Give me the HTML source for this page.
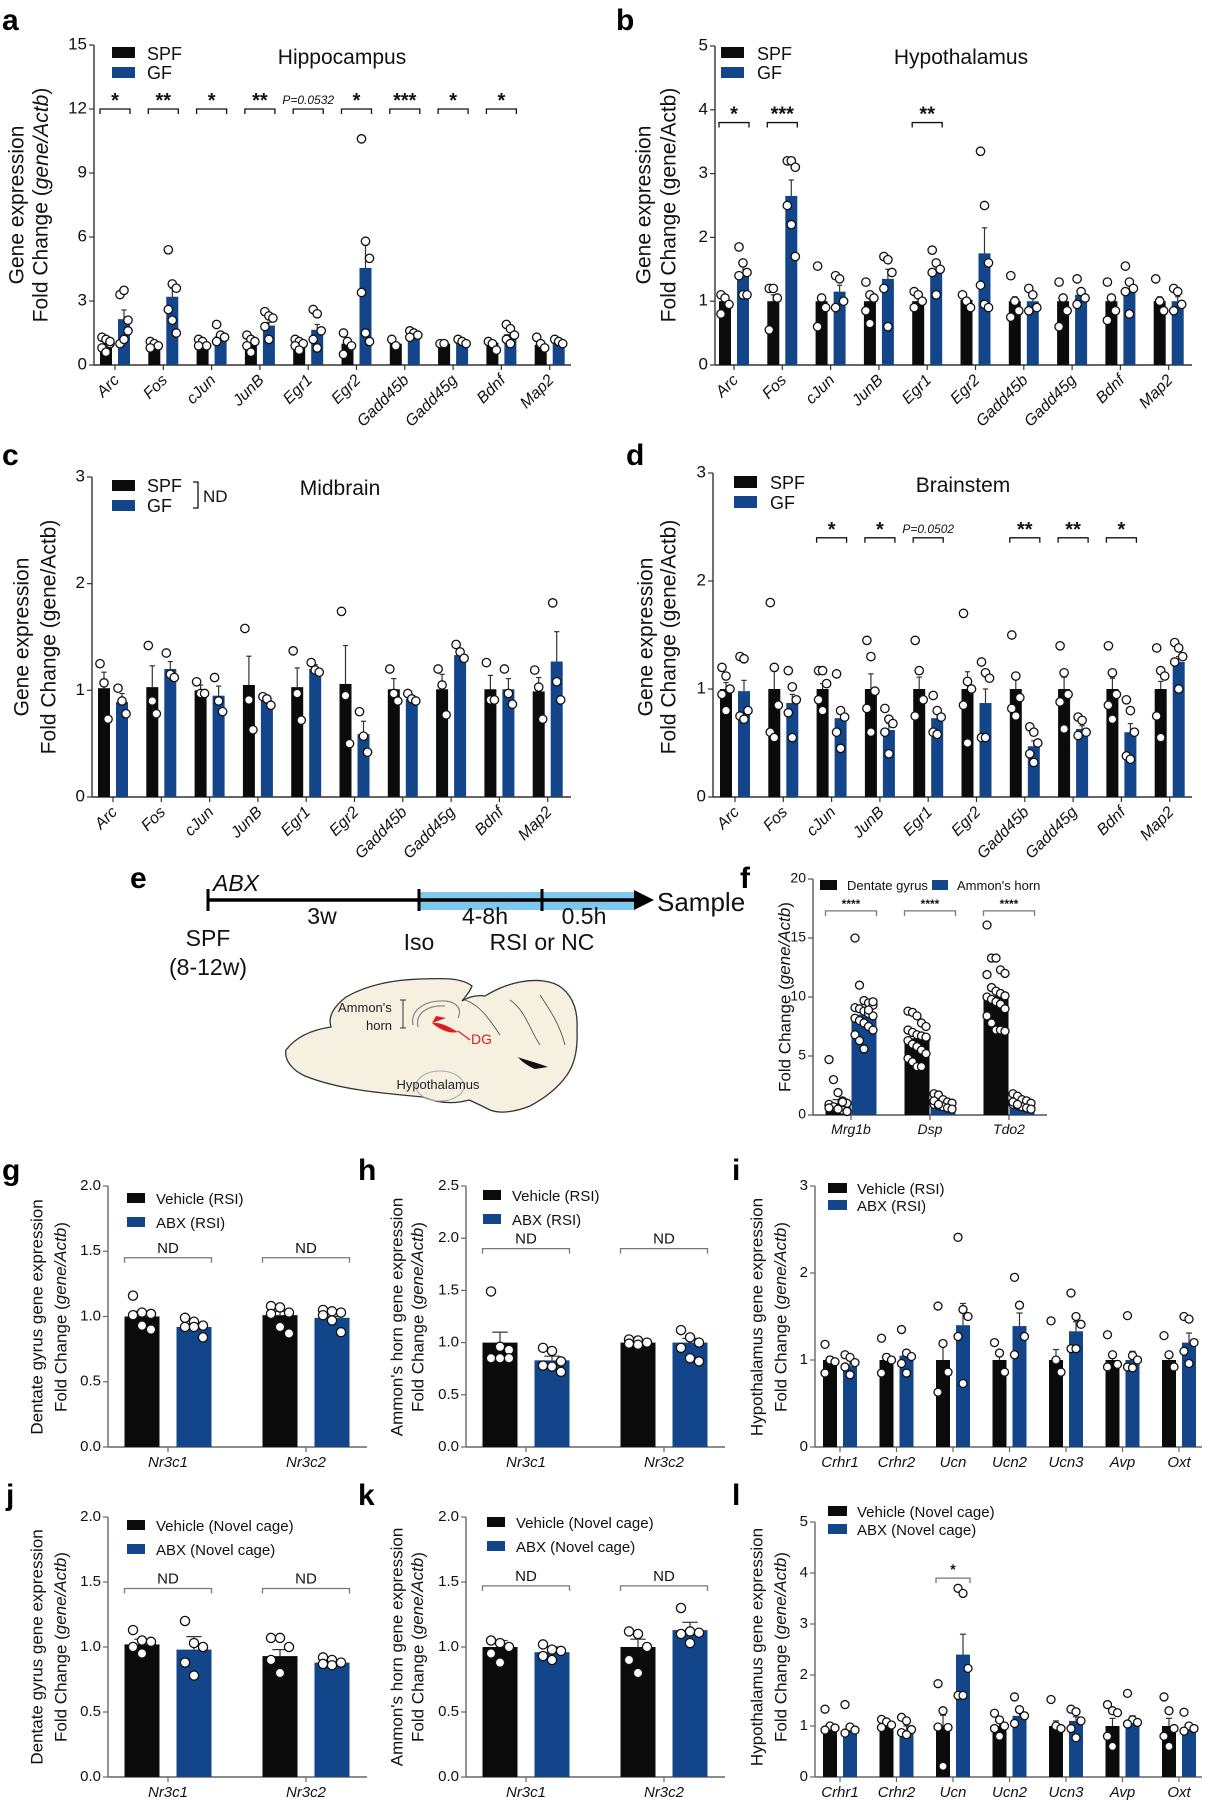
<!DOCTYPE html>
<html><head><meta charset="utf-8"><style>
html,body{margin:0;padding:0;background:#fff}
svg{display:block;font-family:"Liberation Sans",Arial,sans-serif}
</style></head><body>
<svg id="fig" width="1210" height="1800" viewBox="0 0 1210 1800" xmlns="http://www.w3.org/2000/svg">
<rect width="1210" height="1800" fill="#fff"/>
<g font-weight="bold" font-size="30" fill="#000">
<text x="2" y="30">a</text><text x="616" y="30">b</text>
<text x="2" y="465">c</text><text x="626" y="465">d</text>
<text x="130" y="888">e</text><text x="740" y="888">f</text>
<text x="2" y="1180">g</text><text x="358" y="1180">h</text><text x="732" y="1180">i</text>
<text x="6" y="1505">j</text><text x="358" y="1505">k</text><text x="732" y="1505">l</text>
</g>
<g font-size="21" fill="#111" text-anchor="middle">
<text transform="translate(18,205) rotate(-90)" dominant-baseline="middle">Gene expression</text>
<text transform="translate(42,205) rotate(-90)" dominant-baseline="middle">Fold Change (<tspan font-style="italic">gene/Actb</tspan>)</text>
<text transform="translate(645,205) rotate(-90)" dominant-baseline="middle">Gene expression</text>
<text transform="translate(670,205) rotate(-90)" dominant-baseline="middle">Fold Change (gene/Actb)</text>
<text transform="translate(23,637) rotate(-90)" dominant-baseline="middle">Gene expression</text>
<text transform="translate(50,637) rotate(-90)" dominant-baseline="middle">Fold Change (gene/Actb)</text>
<text transform="translate(647,637) rotate(-90)" dominant-baseline="middle">Gene expression</text>
<text transform="translate(670,637) rotate(-90)" dominant-baseline="middle">Fold Change (gene/Actb)</text>
</g>
<g font-size="17" fill="#111" text-anchor="middle">
<text transform="translate(786,997) rotate(-90)" dominant-baseline="middle">Fold Change (<tspan font-style="italic">gene/Actb</tspan>)</text>
<text transform="translate(38,1317) rotate(-90)" dominant-baseline="middle">Dentate gyrus gene expression</text>
<text transform="translate(62,1317) rotate(-90)" dominant-baseline="middle">Fold Change (<tspan font-style="italic">gene/Actb</tspan>)</text>
<text transform="translate(398,1317) rotate(-90)" dominant-baseline="middle">Ammon's horn gene expression</text>
<text transform="translate(419,1317) rotate(-90)" dominant-baseline="middle">Fold Change (<tspan font-style="italic">gene/Actb</tspan>)</text>
<text transform="translate(758,1317) rotate(-90)" dominant-baseline="middle">Hypothalamus gene expression</text>
<text transform="translate(782,1317) rotate(-90)" dominant-baseline="middle">Fold Change (<tspan font-style="italic">gene/Actb</tspan>)</text>
<text transform="translate(38,1647) rotate(-90)" dominant-baseline="middle">Dentate gyrus gene expression</text>
<text transform="translate(62,1647) rotate(-90)" dominant-baseline="middle">Fold Change (<tspan font-style="italic">gene/Actb</tspan>)</text>
<text transform="translate(398,1647) rotate(-90)" dominant-baseline="middle">Ammon's horn gene expression</text>
<text transform="translate(419,1647) rotate(-90)" dominant-baseline="middle">Fold Change (<tspan font-style="italic">gene/Actb</tspan>)</text>
<text transform="translate(758,1647) rotate(-90)" dominant-baseline="middle">Hypothalamus gene expression</text>
<text transform="translate(782,1647) rotate(-90)" dominant-baseline="middle">Fold Change (<tspan font-style="italic">gene/Actb</tspan>)</text>
</g>
<g font-size="18" fill="#111">
<rect x="112" y="47" width="23" height="11" fill="#0b0b0b"/><rect x="112" y="67" width="23" height="11" fill="#12458a"/>
<text x="147" y="60">SPF</text><text x="147" y="79">GF</text>
<text x="342" y="64" font-size="21" text-anchor="middle">Hippocampus</text>
<rect x="721" y="47" width="23" height="11" fill="#0b0b0b"/><rect x="721" y="67" width="23" height="11" fill="#12458a"/>
<text x="757" y="60">SPF</text><text x="757" y="79">GF</text>
<text x="961" y="64" font-size="21" text-anchor="middle">Hypothalamus</text>
<rect x="112" y="480" width="23" height="11" fill="#0b0b0b"/><rect x="112" y="500" width="23" height="11" fill="#12458a"/>
<text x="147" y="492">SPF</text><text x="147" y="512">GF</text>
<path d="M193 482 H198 V508 H193" fill="none" stroke="#111" stroke-width="1.3"/>
<text x="203" y="502" font-size="17">ND</text>
<text x="340" y="495" font-size="21" text-anchor="middle">Midbrain</text>
<rect x="734" y="476" width="23" height="12" fill="#0b0b0b"/><rect x="734" y="496" width="23" height="12" fill="#12458a"/>
<text x="770" y="489">SPF</text><text x="770" y="509">GF</text>
<text x="963" y="492" font-size="21" text-anchor="middle">Brainstem</text>
</g>
<g font-size="15" fill="#111">
<rect x="820" y="880" width="17" height="10" fill="#0b0b0b"/><text x="847" y="890" font-size="13">Dentate gyrus</text>
<rect x="932" y="880" width="16" height="10" fill="#12458a"/><text x="957" y="890" font-size="13">Ammon's horn</text>
<rect x="127" y="1193" width="18" height="10" fill="#0b0b0b"/><text x="156" y="1204">Vehicle (RSI)</text>
<rect x="127" y="1217" width="18" height="10" fill="#12458a"/><text x="156" y="1228">ABX (RSI)</text>
<rect x="483" y="1190" width="18" height="10" fill="#0b0b0b"/><text x="512" y="1201">Vehicle (RSI)</text>
<rect x="483" y="1214" width="18" height="10" fill="#12458a"/><text x="512" y="1225">ABX (RSI)</text>
<rect x="828" y="1183" width="19" height="10" fill="#0b0b0b"/><text x="857" y="1194">Vehicle (RSI)</text>
<rect x="828" y="1200" width="19" height="10" fill="#12458a"/><text x="857" y="1211">ABX (RSI)</text>
<rect x="127" y="1520" width="18" height="10" fill="#0b0b0b"/><text x="156" y="1531">Vehicle (Novel cage)</text>
<rect x="127" y="1544" width="18" height="10" fill="#12458a"/><text x="156" y="1555">ABX (Novel cage)</text>
<rect x="487" y="1517" width="18" height="10" fill="#0b0b0b"/><text x="516" y="1528">Vehicle (Novel cage)</text>
<rect x="487" y="1541" width="18" height="10" fill="#12458a"/><text x="516" y="1552">ABX (Novel cage)</text>
<rect x="828" y="1506" width="19" height="10" fill="#0b0b0b"/><text x="857" y="1517">Vehicle (Novel cage)</text>
<rect x="828" y="1524" width="19" height="10" fill="#12458a"/><text x="857" y="1535">ABX (Novel cage)</text>
</g>
<g fill="#111">
<rect x="419" y="892" width="216" height="18" fill="#7ec8ee"/>
<line x1="208" y1="900" x2="636" y2="900" stroke="#000" stroke-width="3.5"/>
<polygon points="634,890 654,900 634,910" fill="#000"/>
<line x1="208" y1="889" x2="208" y2="911" stroke="#000" stroke-width="3"/>
<line x1="419" y1="889" x2="419" y2="911" stroke="#000" stroke-width="3"/>
<line x1="542" y1="889" x2="542" y2="911" stroke="#000" stroke-width="3"/>
<text x="213" y="891" font-size="23" font-style="italic">ABX</text>
<text x="657" y="911" font-size="26">Sample</text>
<g font-size="23" text-anchor="middle">
<text x="322" y="924">3w</text><text x="485" y="924">4-8h</text><text x="584" y="924">0.5h</text>
<text x="208" y="946">SPF</text><text x="208" y="975">(8-12w)</text>
<text x="419" y="950">Iso</text><text x="542" y="950">RSI or NC</text>
</g>
</g>
<g>
<path d="M286 1050 C295 1038 310 1030 331 1027 C328 1018 332 1008 346 997 C365 986 390 980 420 979 C445 978 462 978 472 986 C470 992 465 997 462 1001 C470 996 478 995 485 996 C495 990 505 985 520 982 C535 979 552 980 562 988 C574 998 578 1012 577 1030 C578 1050 574 1065 567 1075 C558 1088 545 1098 530 1106 C515 1112 500 1114 490 1110 C482 1106 474 1102 469 1100 C455 1104 440 1104 423 1097 C400 1095 380 1093 360 1090 C340 1087 320 1082 305 1076 C292 1070 284 1060 286 1050 Z" fill="#f6f0e1" stroke="#333" stroke-width="1.3"/>
<path d="M465 1000 C480 1005 490 1020 500 1035 M510 1000 C525 1010 530 1030 540 1045 M540 995 C550 1010 560 1025 565 1045" fill="none" stroke="#555" stroke-width="0.9"/>
<path d="M413 1025 C410 1010 425 1000 445 1001 C458 1002 462 1010 458 1018 M418 1027 C415 1013 428 1005 445 1006" fill="none" stroke="#888" stroke-width="1.2"/>
<path d="M432 1023 C440 1022 448 1026 458 1032 C450 1034 440 1030 432 1023 Z M432 1023 L436 1016 L446 1018 Z" fill="#e01b1b"/>
<line x1="470" y1="1040" x2="458" y2="1031" stroke="#e01b1b" stroke-width="1.2"/>
<path d="M400 1000 H406 M403 1000 V1028 M400 1028 H406" stroke="#333" stroke-width="1" fill="none"/>
<path d="M518 1057 C525 1060 535 1062 548 1067 L535 1069 C528 1066 522 1062 518 1057 Z" fill="#111"/>
<ellipse cx="440" cy="1086" rx="24" ry="15" fill="none" stroke="#aaa" stroke-width="1"/>
<text x="338" y="1012" font-size="13" fill="#222">Ammon's</text>
<text x="366" y="1030" font-size="13" fill="#222">horn</text>
<text x="471" y="1044" font-size="14" fill="#e01b1b">DG</text>
<text x="438" y="1089" font-size="13" fill="#222" text-anchor="middle">Hypothalamus</text>
</g>
<g id="charts"></g>
</svg>
<script>
const aCats=['Arc','Fos','cJun','JunB','Egr1','Egr2','Gadd45b','Gadd45g','Bdnf','Map2'];
const aTicks=[0,3,6,9,12,15];
const aSpfMean=[1.0,0.95,0.9,1.0,1.0,1.0,1.0,1.0,1.05,0.95];
const aSpfErr=[1.1,1.05,1.0,1.1,1.08,1.12,1.05,1.03,1.1,1.05];
const aSpfPts=[[1.3,1.2,1.0,0.8,0.6,1.1],[1.1,1.0,0.9,0.8],[1.2,1.1,0.9,0.9],[1.4,1.2,1.1,0.9,0.6],[1.2,1.1,1.0,0.9,0.7],[1.5,1.1,0.9,0.5],[1.2,0.9],[1.0,1.0],[1.1,1.0,0.7],[1.3,1.0,0.8]];
const aGfMean=[2.15,3.2,1.35,1.85,1.65,4.55,1.35,1.1,1.45,1.05];
const aGfErr=[2.58,3.6,1.5,2.0,1.9,5.9,1.45,1.15,1.55,1.1];
const aGfPts=[[3.3,3.5,2.1,1.0,1.2,1.6],[5.4,3.8,3.6,2.6,2.1,1.5],[1.9,1.4,1.3,1.1],[2.5,2.3,2.2,1.8,1.2],[2.6,2.4,1.6,1.2,0.8],[10.6,5.8,5.0,3.4,1.5,1.1],[1.6,1.5,1.4,1.3],[1.2,1.1,1.0],[1.9,1.7,1.4,1.2,1.0],[1.2,1.1,1.0]];
const aSig=['*','**','*','**','P=0.0532','*','***','*','*',''];
const bCats=aCats;
const bTicks=[0,1,2,3,4,5];
const bSpfMean=[1.0,1.0,1.0,1.0,1.0,1.02,1.0,1.0,1.0,1.0];
const bSpfErr=[1.05,1.1,1.1,1.07,1.06,1.06,1.07,1.08,1.07,1.07];
const bSpfPts=[[1.1,1.05,0.95,0.8],[1.2,1.2,1.05,0.55],[1.55,1.05,0.9,0.6],[1.3,1.1,1.05,0.85,0.65],[1.15,1.1,1.0,0.9],[1.1,1.0,0.9],[1.4,1.0,0.85,0.75],[1.3,1.05,0.85,0.6],[1.3,1.05,0.85,0.7],[1.35,1.0,0.85]];
const bGfMean=[1.45,2.65,1.15,1.35,1.45,1.75,1.0,1.1,1.2,1.0];
const bGfErr=[1.55,2.9,1.25,1.5,1.55,2.15,1.08,1.15,1.3,1.07];
const bGfPts=[[1.85,1.6,1.45,1.4,1.1,1.1],[3.2,3.2,3.1,2.5,2.2,1.7],[1.4,1.35,1.0,0.9],[1.7,1.65,1.45,1.2,0.6],[1.8,1.6,1.5,1.45,1.1],[3.35,2.5,1.6,1.25,0.95,0.9],[1.2,1.1,0.9,0.85],[1.35,1.15,1.05,0.95],[1.55,1.3,1.2,1.15,0.8],[1.2,1.15,0.95,0.85]];
const bSig=['*','***','','','**','','','','',''];
const cCats=aCats;
const cTicks=[0,1,2,3];
const cSpfMean=[1.02,1.03,1.0,1.05,1.03,1.06,1.01,1.01,1.01,0.99];
const cSpfErr=[1.17,1.23,1.05,1.32,1.21,1.42,1.11,1.15,1.14,1.12];
const cSpfPts=[[1.25,1.07,0.73],[1.42,0.9,0.78],[1.08,0.97,0.97],[1.58,0.91,0.63],[1.37,0.97,0.72],[1.74,0.95,0.5],[1.2,0.97,0.9],[1.2,1.05,0.77],[1.26,0.91,0.91],[1.19,1.03,0.73]];
const cGfMean=[0.89,1.2,0.95,0.9,1.2,0.59,0.92,1.33,1.01,1.27];
const cGfErr=[0.97,1.27,1.04,0.93,1.24,0.71,0.95,1.38,1.11,1.55];
const cGfPts=[[1.02,0.9,0.78],[1.35,1.15,1.12],[1.12,0.9,0.8],[0.94,0.92,0.86],[1.26,1.19,1.17],[0.8,0.57,0.42],[0.97,0.92,0.9],[1.43,1.36,1.3],[1.2,0.97,0.87],[1.82,1.08,0.91]];
const cSig=['','','','','','','','','',''];
const dCats=aCats;
const dTicks=[0,1,2,3];
const dSpfMean=[1.0,1.0,1.0,1.0,1.0,1.0,1.0,1.0,1.0,1.0];
const dSpfErr=[1.06,1.17,1.05,1.14,1.11,1.16,1.09,1.11,1.1,1.07];
const dSpfPts=[[1.2,1.12,1.0,0.95,0.8],[1.8,1.2,0.85,0.6,0.55],[1.17,1.17,1.05,0.9,0.8],[1.45,1.3,0.98,0.82,0.6],[1.45,1.17,0.9,0.75],[1.7,1.07,1.0,0.85,0.5],[1.5,1.12,0.92,0.82,0.75],[1.4,1.15,0.95,0.88,0.63],[1.4,1.15,0.95,0.85,0.72],[1.38,1.17,1.12,0.75,0.55]];
const dGfMean=[0.98,0.87,0.73,0.62,0.73,0.87,0.47,0.63,0.6,1.25];
const dGfErr=[1.08,0.95,0.78,0.68,0.78,1.0,0.52,0.66,0.68,1.3];
const dGfPts=[[1.3,1.28,0.8,0.75,0.72],[1.17,1.02,0.9,0.78,0.55],[1.14,0.8,0.74,0.6,0.45],[0.82,0.72,0.68,0.6,0.4],[0.94,0.8,0.74,0.6,0.58],[1.25,1.15,1.1,0.55,0.55],[0.65,0.6,0.5,0.4,0.32],[0.74,0.71,0.6,0.57],[0.9,0.8,0.6,0.38,0.35],[1.43,1.38,1.3,1.25,1.0]];
const dSig=['','','*','*','P=0.0502','','**','**','*',''];
const fCats=['Mrg1b','Dsp','Tdo2'];
const fTicks=[0,5,10,15,20];
const fDgMean=[1.0,6.5,10.1];
const fDgErr=[1.3,6.8,10.5];
const fDgPts=[[4.7,3.0,1.9,1.2,1.0,0.8,0.6,0.5,0.4,0.3,0.9,0.7,0.5,1.1,0.3,0.6],[8.8,8.7,8.4,7.8,7.5,7.2,7.0,6.8,6.7,6.5,6.3,6.0,5.8,5.5,5.2,4.8,4.5,4.1,4.1,6.6],[16.1,13.3,13.3,12.3,12.0,11.9,10.8,10.5,10.3,10.1,10.0,9.8,9.6,9.4,9.0,8.4,7.8,7.2,7.2,7.1]];
const fAhMean=[8.5,0.9,0.9];
const fAhErr=[8.9,1.0,1.0];
const fAhPts=[[15.0,11.0,9.7,9.5,9.3,9.1,9.0,8.8,8.6,8.4,8.2,8.0,7.8,7.5,7.2,6.8,6.3,5.6,8.9,9.6],[1.8,1.7,1.3,1.1,1.0,0.9,0.8,0.7,0.6,0.5,1.2,0.9],[1.8,1.6,1.3,1.2,1.0,0.9,0.8,0.7,0.6,0.5,1.1,0.9]];
const fSig=['****','****','****'];
const ghCats=['Nr3c1','Nr3c2'];
const gTicks=[0,0.5,1.0,1.5,2.0];
const gTickLabels=['0.0','0.5','1.0','1.5','2.0'];
const hTicks=[0,0.5,1.0,1.5,2.0,2.5];
const hTickLabels=['0.0','0.5','1.0','1.5','2.0','2.5'];
const gVehMean=[1.0,1.01];const gVehErr=[1.04,1.04];
const gVehPts=[[1.16,1.03,1.02,1.01,0.93,0.9],[1.08,1.07,1.03,1.02,0.92,0.87]];
const gAbxMean=[0.92,0.99];const gAbxErr=[0.94,1.0];
const gAbxPts=[[0.99,0.96,0.93,0.92,0.92,0.84],[1.05,1.04,1.03,1.01,0.97,0.88]];
const gSig=['ND','ND'];
const hVehMean=[1.0,1.0];const hVehErr=[1.1,1.02];
const hVehPts=[[1.49,0.96,0.93,0.85,0.85,0.85],[1.03,1.02,1.0,0.99,0.98]];
const hAbxMean=[0.83,1.0];const hAbxErr=[0.87,1.04];
const hAbxPts=[[0.95,0.92,0.82,0.78,0.77,0.72],[1.12,1.05,1.0,0.95,0.85,0.82]];
const hSig=['ND','ND'];
const jVehMean=[1.02,0.93];const jVehErr=[1.06,0.98];
const jVehPts=[[1.13,1.05,1.04,1.0,0.95],[1.07,1.07,1.0,0.9,0.8]];
const jAbxMean=[0.98,0.88];const jAbxErr=[1.08,0.9];
const jAbxPts=[[1.2,1.03,1.0,0.88,0.78],[0.92,0.9,0.88,0.87,0.86]];
const jSig=['ND','ND'];
const kVehMean=[1.0,1.0];const kVehErr=[1.05,1.06];
const kVehPts=[[1.05,1.03,1.0,0.95,0.88],[1.12,1.1,1.0,0.9,0.8]];
const kAbxMean=[0.96,1.13];const kAbxErr=[1.0,1.19];
const kAbxPts=[[1.02,0.98,0.97,0.93,0.9],[1.3,1.12,1.11,1.1,1.03]];
const kSig=['ND','ND'];
const ilCats=['Crhr1','Crhr2','Ucn','Ucn2','Ucn3','Avp','Oxt'];
const iTicks=[0,1,2,3];
const lTicks=[0,1,2,3,4,5];
const iVehMean=[1.0,1.0,1.0,1.0,1.0,1.0,1.0];
const iVehErr=[1.04,1.07,1.17,1.08,1.12,1.05,1.09];
const iVehPts=[[1.18,1.0,0.98,0.85],[1.25,1.03,1.0,0.85],[1.62,1.19,0.86,0.63],[1.2,1.08,0.86],[1.45,1.0,0.86],[1.29,1.06,0.95,0.92],[1.28,1.06,0.92]];
const iAbxMean=[0.93,1.05,1.4,1.39,1.33,1.0,1.2];
const iAbxErr=[0.99,1.09,1.65,1.54,1.44,1.1,1.31];
const iAbxPts=[[1.06,1.03,0.97,0.92,0.83],[1.35,1.08,1.04,0.96,0.85],[2.41,1.58,1.5,1.27,0.73],[1.95,1.63,1.27,1.06],[1.77,1.5,1.41,1.13,1.13],[1.51,1.05,1.0,0.92,0.91],[1.5,1.47,1.2,1.1,0.96]];
const iSig=['','','','','','',''];
const lVehMean=[0.98,1.0,1.0,1.0,1.0,1.0,1.0];
const lVehErr=[1.05,1.05,1.21,1.07,1.1,1.15,1.15];
const lVehPts=[[1.33,1.0,0.96,0.92],[1.13,1.08,1.02,0.97],[1.83,1.3,0.97,0.98,0.21],[1.25,1.12,1.0,0.95,0.8],[1.52,1.0,0.95],[1.42,1.3,1.26,0.8,0.6],[1.57,1.3,0.95,0.8,0.6]];
const lAbxMean=[0.95,0.92,2.4,1.2,1.1,1.1,0.98];
const lAbxErr=[1.04,1.0,2.8,1.27,1.18,1.2,1.04];
const lAbxPts=[[1.42,0.98,0.92,0.86],[1.17,1.1,0.93,0.87,0.83],[3.7,3.6,2.13,1.6,1.6],[1.57,1.32,1.2,1.05],[1.33,1.28,1.1,0.95,0.77],[1.64,1.12,1.07,1.04],[1.27,1.0,0.95,0.9]];
const lSig=['','','*','','','',''];

const NS='http://www.w3.org/2000/svg';
const chartsRoot=document.getElementById('charts');
function mk(tag,attrs,name,parent){
  const el=document.createElementNS(NS,tag);
  for(const k in attrs) el.setAttribute(k,attrs[k]);
  
  
  parent.appendChild(el);
  return el;
}
function chart(g,cats,ticks,tickLabels,s1m,s1e,s1p,s2m,s2e,s2p,sig){
  const ymax=ticks[ticks.length-1];
  const grp=mk('g',{},g.name,chartsRoot);
  const Y=v=>g.yb-(v/ymax)*(g.yb-g.yt);
  const X=i=>g.x0+g.pad+i*g.step;
  mk('line',{x1:g.x0,y1:g.yt,x2:g.x0,y2:g.yb,stroke:g.ax,'stroke-width':1.4},'y-axis',grp);
  mk('line',{x1:g.x0,y1:g.yb,x2:g.x1,y2:g.yb,stroke:g.ax,'stroke-width':1.4},'x-axis',grp);
  ticks.forEach((t,k)=>{
    mk('line',{x1:g.x0-5,y1:Y(t),x2:g.x0,y2:Y(t),stroke:g.ax,'stroke-width':1.2},'y-tick',grp);
    const tx=mk('text',{x:g.x0-7,y:Y(t),'font-size':g.tf,'text-anchor':'end','dominant-baseline':'middle',fill:'#111'},'y-tick-label',grp);
    tx.textContent=tickLabels?tickLabels[k]:String(t);
  });
  cats.forEach((c,i)=>{
    const cx=X(i);
    mk('line',{x1:cx,y1:g.yb,x2:cx,y2:g.yb+5,stroke:g.ax,'stroke-width':1.2},'x-tick',grp);
    let lab;
    if(g.rot){
      lab=mk('text',{x:0,y:0,transform:`translate(${cx+5},${g.yb+16}) rotate(-45)`,'text-anchor':'end','font-size':g.lf,'font-style':'italic',fill:'#111'},'x-tick-label',grp);
    }else{
      lab=mk('text',{x:cx,y:g.yb+g.lf+5,'text-anchor':'middle','font-size':g.lf,'font-style':'italic',fill:'#111'},'x-tick-label',grp);
    }
    lab.textContent=c;
    [[s1m,s1e,s1p,'#0b0b0b',-1],[s2m,s2e,s2p,'#12458a',1]].forEach(([m,e,p,col,sgn])=>{
      const bx=cx+sgn*g.off-g.bw/2;
      mk('line',{x1:bx+g.bw/2,y1:Y(m[i]),x2:bx+g.bw/2,y2:Y(e[i]),stroke:'#333','stroke-width':1.2},'error-bar',grp);
      mk('line',{x1:bx+g.bw/2-g.bw*0.22,y1:Y(e[i]),x2:bx+g.bw/2+g.bw*0.22,y2:Y(e[i]),stroke:'#333','stroke-width':1.2},'error-cap',grp);
      mk('rect',{x:bx,y:Y(m[i]),width:g.bw,height:g.yb-Y(m[i]),fill:col},sgn<0?'bar-group1':'bar-group2',grp);
      p[i].forEach((v,j)=>{
        const n=g.jn;
        const dx=((j%n)-(n-1)/2)*g.js;
        mk('circle',{cx:bx+g.bw/2+dx,cy:Y(v),r:g.r,fill:'#fff',stroke:'#111','stroke-width':1.3},'data-point',grp);
      });
    });
    if(sig && sig[i]){
      const l=cx-g.off-g.bw/2, r=cx+g.off+g.bw/2, yy=Y(g.sigV);
      mk('path',{d:`M${l} ${yy+5} V${yy} H${r} V${yy+5}`,fill:'none',stroke:g.sigC,'stroke-width':1.3},'significance-bracket',grp);
      const isP=sig[i].startsWith('P');
      const st=mk('text',{x:(l+r)/2,y:isP?yy-5:yy+g.sigDy,'text-anchor':'middle','font-size':isP?12:g.sigF,'font-style':isP?'italic':'normal','font-weight':(isP||sig[i]==='ND')?'normal':'bold',fill:'#111'},'significance-label',grp);
      st.textContent=sig[i];
    }
  });
}
const topCfg={rot:true,tf:17,lf:16,bw:12,off:9,r:4.2,jn:3,js:4,ax:'#333',sigC:'#111',sigF:20,sigDy:-2};
chart(Object.assign({},topCfg,{name:'chart-a-hippocampus',x0:94,x1:571,yt:45,yb:365,pad:21,step:48.3,sigV:12}),aCats,aTicks,null,aSpfMean,aSpfErr,aSpfPts,aGfMean,aGfErr,aGfPts,aSig);
chart(Object.assign({},topCfg,{name:'chart-b-hypothalamus',x0:715,x1:1192,yt:46,yb:365,pad:19,step:48.3,sigV:3.8}),bCats,bTicks,null,bSpfMean,bSpfErr,bSpfPts,bGfMean,bGfErr,bGfPts,bSig);
chart(Object.assign({},topCfg,{name:'chart-c-midbrain',x0:92,x1:571,yt:477,yb:797,pad:21,step:48.3,sigV:2.4}),cCats,cTicks,null,cSpfMean,cSpfErr,cSpfPts,cGfMean,cGfErr,cGfPts,cSig);
chart(Object.assign({},topCfg,{name:'chart-d-brainstem',x0:713,x1:1192,yt:473,yb:797,pad:22,step:48.3,sigV:2.4}),dCats,dTicks,null,dSpfMean,dSpfErr,dSpfPts,dGfMean,dGfErr,dGfPts,dSig);
chart({name:'chart-f-markers',rot:false,tf:14,lf:14,bw:25,off:13,r:4,jn:5,js:4.5,ax:'#555',sigC:'#777',sigF:12,sigDy:-3,x0:813,x1:1047,yt:879,yb:1115,pad:38,step:79,sigV:17.3},fCats,fTicks,null,fDgMean,fDgErr,fDgPts,fAhMean,fAhErr,fAhPts,fSig);
const lowCfg={rot:false,tf:15,lf:15,bw:35,off:26,r:4.6,jn:3,js:9,ax:'#666',sigC:'#777',sigF:15,sigDy:-5,pad:60,step:138};
chart(Object.assign({},lowCfg,{name:'chart-g-dentate-rsi',x0:108,x1:367,yt:1186,yb:1447,sigV:1.45}),ghCats,gTicks,gTickLabels,gVehMean,gVehErr,gVehPts,gAbxMean,gAbxErr,gAbxPts,gSig);
chart(Object.assign({},lowCfg,{name:'chart-h-ammon-rsi',x0:466,x1:725,yt:1186,yb:1447,sigV:1.9}),ghCats,hTicks,hTickLabels,hVehMean,hVehErr,hVehPts,hAbxMean,hAbxErr,hAbxPts,hSig);
chart(Object.assign({},lowCfg,{name:'chart-j-dentate-novel',x0:108,x1:367,yt:1517,yb:1777,sigV:1.45}),ghCats,gTicks,gTickLabels,jVehMean,jVehErr,jVehPts,jAbxMean,jAbxErr,jAbxPts,jSig);
chart(Object.assign({},lowCfg,{name:'chart-k-ammon-novel',x0:466,x1:725,yt:1517,yb:1777,sigV:1.47}),ghCats,gTicks,gTickLabels,kVehMean,kVehErr,kVehPts,kAbxMean,kAbxErr,kAbxPts,kSig);
const hypCfg={rot:false,tf:15,lf:15,bw:14,off:10,r:4,jn:3,js:5,ax:'#666',sigC:'#777',sigF:14,sigDy:-4,x0:815,x1:1202,pad:25,step:56.5};
chart(Object.assign({},hypCfg,{name:'chart-i-hypothalamus-rsi',yt:1186,yb:1447,sigV:2.8}),ilCats,iTicks,null,iVehMean,iVehErr,iVehPts,iAbxMean,iAbxErr,iAbxPts,iSig);
chart(Object.assign({},hypCfg,{name:'chart-l-hypothalamus-novel',yt:1522,yb:1777,sigV:3.9}),ilCats,lTicks,null,lVehMean,lVehErr,lVehPts,lAbxMean,lAbxErr,lAbxPts,lSig);
</script>
</body></html>
